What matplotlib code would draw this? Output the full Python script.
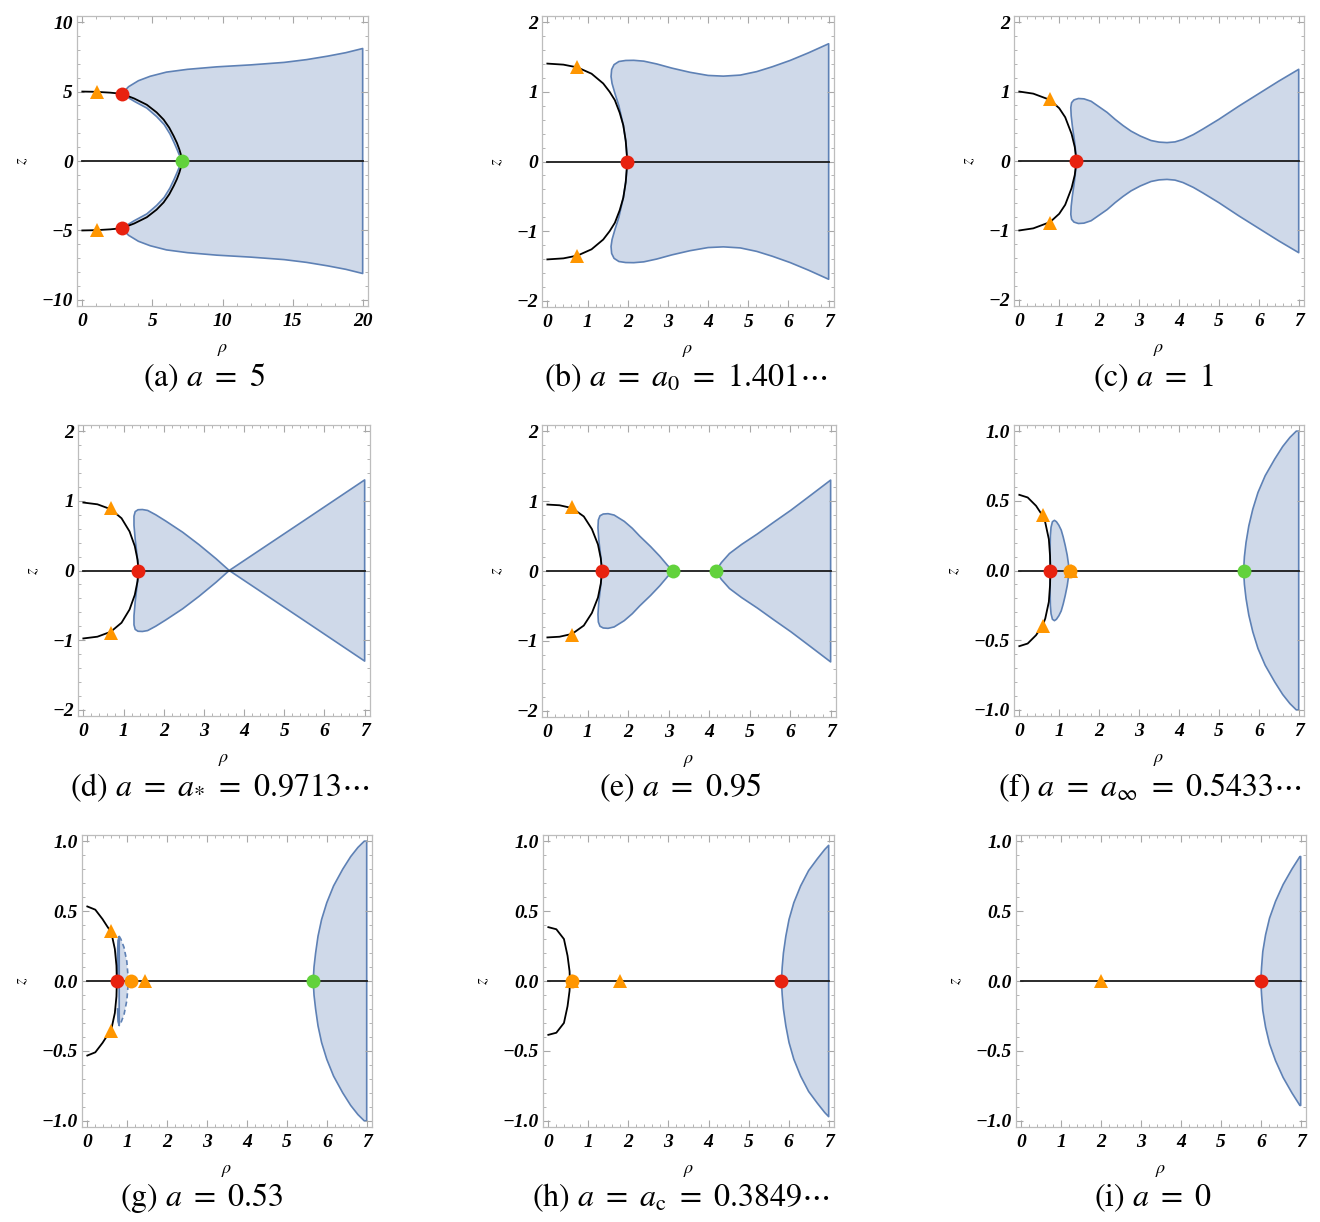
import matplotlib
matplotlib.use("Agg")
import matplotlib.pyplot as plt
from matplotlib.ticker import MultipleLocator, FuncFormatter
from matplotlib.patches import Polygon

plt.rcParams['mathtext.fontset'] = 'stix'
plt.rcParams['axes.unicode_minus'] = True

# ---------------- data (upper halves; lower halves are the mirror image) ----------------
# (a) a = 5
a_black = [(0, 5.0), (1.0, 4.98), (2.0, 4.92), (2.82, 4.84), (3.7, 4.5), (4.6, 4.05), (5.3, 3.5),
           (5.8, 2.98), (6.2, 2.4), (6.52, 1.79), (6.75, 1.3), (6.92, 0.84), (7.05, 0.4), (7.1, 0.0)]
a_inner = [(2.82, 4.84), (3.7, 4.3), (4.6, 3.81), (5.3, 3.2), (5.84, 2.62), (6.25, 1.95),
           (6.55, 1.31), (6.75, 0.85), (6.9, 0.48), (7.05, 0.2), (7.1, 0.0)]
a_outer = [(2.82, 4.84), (3.3, 5.35), (4.0, 5.78), (4.84, 6.1), (6.0, 6.4), (7.5, 6.6), (9.6, 6.78),
           (12.0, 6.92), (14.4, 7.1), (16.0, 7.3), (17.5, 7.55), (18.8, 7.8), (20.0, 8.1)]
a_red = [(2.82, 4.84), (2.82, -4.84)]
a_green = [(7.1, 0.0)]
a_tri = [(1.05, 5.0), (1.05, -5.0)]

# (b) a = a0 = 1.401...
b_black = [(0, 1.405), (0.4, 1.39), (0.75, 1.35), (1.1, 1.26), (1.39, 1.12), (1.55, 1.0), (1.68, 0.88),
           (1.8, 0.7), (1.89, 0.52), (1.95, 0.3), (1.99, 0.0)]
b_region = [(1.99, 0.0), (1.96, 0.25), (1.89, 0.52), (1.78, 0.8), (1.68, 0.98), (1.61, 1.12), (1.585, 1.22),
            (1.6, 1.32), (1.66, 1.39), (1.78, 1.435), (1.95, 1.45), (2.15, 1.452), (2.4, 1.44), (2.72, 1.40),
            (3.1, 1.34), (3.55, 1.28), (4.0, 1.235), (4.38, 1.225), (4.8, 1.24), (5.21, 1.29), (5.6, 1.36),
            (6.04, 1.45), (6.5, 1.56), (7.0, 1.69)]
b_red = [(1.99, 0.0)]
b_tri = [(0.75, 1.36), (0.75, -1.36)]

# (c) a = 1
c_black = [(0, 1.0), (0.35, 0.97), (0.77, 0.88), (1.0, 0.76), (1.15, 0.63), (1.31, 0.39), (1.39, 0.2), (1.43, 0.0)]
c_region = [(1.43, 0.0), (1.42, 0.1), (1.38, 0.3), (1.33, 0.5), (1.3, 0.65), (1.29, 0.77), (1.31, 0.84),
            (1.37, 0.88), (1.48, 0.9), (1.62, 0.895), (1.8, 0.86), (2.0, 0.78), (2.2, 0.7), (2.4, 0.6),
            (2.6, 0.51), (2.8, 0.43), (3.03, 0.36), (3.3, 0.295), (3.5, 0.272), (3.7, 0.265), (3.9, 0.275),
            (4.1, 0.31), (4.36, 0.38), (4.6, 0.46), (5.0, 0.6), (5.5, 0.79), (6.0, 0.97), (6.5, 1.15), (7.0, 1.32)]
c_red = [(1.43, 0.0)]
c_tri = [(0.77, 0.89), (0.77, -0.89)]

# (d) a = a* = 0.9713...
d_black = [(0, 0.975), (0.35, 0.95), (0.68, 0.88), (0.95, 0.75), (1.15, 0.56), (1.28, 0.35), (1.35, 0.15), (1.37, 0.0)]
d_lobe1 = [(1.37, 0.0), (1.34, 0.2), (1.29, 0.45), (1.26, 0.65), (1.26, 0.78), (1.29, 0.845), (1.36, 0.872),
           (1.47, 0.875), (1.6, 0.862), (1.8, 0.8), (2.05, 0.71), (2.47, 0.55), (2.88, 0.37), (3.3, 0.17), (3.63, 0.0)]
d_lobe2 = [(3.63, 0.0), (4.5, 0.335), (5.5, 0.72), (7.0, 1.30)]
d_red = [(1.37, 0.0)]
d_tri = [(0.68, 0.89), (0.68, -0.89)]

# (e) a = 0.95
e_black = [(0, 0.95), (0.3, 0.94), (0.61, 0.9), (0.9, 0.78), (1.1, 0.6), (1.25, 0.38), (1.32, 0.18), (1.35, 0.0)]
e_lobe1 = [(1.35, 0.0), (1.32, 0.2), (1.27, 0.45), (1.25, 0.62), (1.26, 0.73), (1.3, 0.79), (1.38, 0.815),
           (1.5, 0.82), (1.65, 0.8), (1.9, 0.71), (2.1, 0.61), (2.28, 0.5), (2.55, 0.35), (2.78, 0.21),
           (2.97, 0.08), (3.11, 0.0)]
e_lobe2 = [(4.16, 0.0), (4.3, 0.12), (4.5, 0.25), (4.8, 0.38), (5.19, 0.53), (5.6, 0.7), (6.02, 0.87),
           (6.5, 1.08), (7.0, 1.30)]
e_red = [(1.35, 0.0)]
e_green = [(3.11, 0.0), (4.16, 0.0)]
e_tri = [(0.61, 0.92), (0.61, -0.92)]

# (f) a = a_inf = 0.5433...
f_black = [(0, 0.543), (0.21, 0.524), (0.42, 0.464), (0.59, 0.39), (0.65, 0.345), (0.74, 0.225), (0.77, 0.105), (0.78, 0.0)]
f_lens = [(0.77, 0.0), (0.772, 0.15), (0.778, 0.25), (0.795, 0.31), (0.83, 0.35), (0.88, 0.36), (0.93, 0.35),
          (0.99, 0.325), (1.05, 0.29), (1.1, 0.24), (1.15, 0.18), (1.2, 0.11), (1.23, 0.05), (1.24, 0.0)]
f_right = [(5.62, 0.0), (5.64, 0.1), (5.68, 0.2), (5.75, 0.32), (5.85, 0.44), (5.98, 0.56), (6.16, 0.68),
           (6.4, 0.8), (6.6, 0.89), (6.78, 0.955), (6.94, 1.0), (7.0, 1.0)]
f_red = [(0.78, 0.0)]
f_green = [(5.62, 0.0)]
f_tri = [(0.59, 0.40), (0.59, -0.40), (1.3, 0.0)]
f_orange = [(1.27, 0.0)]

# (g) a = 0.53
g_black = [(0, 0.533), (0.2, 0.51), (0.38, 0.443), (0.5, 0.39), (0.6, 0.348), (0.69, 0.229), (0.73, 0.11), (0.74, 0.0)]
g_lens_solid = [(0.755, 0.0), (0.757, 0.2), (0.77, 0.29), (0.8, 0.319)]
g_lens_dashed = [(0.8, 0.319), (0.84, 0.30), (0.92, 0.24), (0.99, 0.14), (1.03, 0.0)]
g_right = [(5.66, 0.0), (5.68, 0.1), (5.72, 0.2), (5.78, 0.32), (5.87, 0.44), (6.0, 0.56), (6.17, 0.68),
           (6.4, 0.8), (6.6, 0.89), (6.78, 0.955), (6.94, 1.0), (7.0, 1.0)]
g_red = [(0.74, 0.0)]
g_green = [(5.66, 0.0)]
g_tri = [(0.605, 0.355), (0.605, -0.355), (1.44, 0.0)]
g_orange = [(1.09, 0.0)]

# (h) a = a_c = 0.3849...
h_black = [(0, 0.385), (0.2, 0.37), (0.39, 0.3), (0.48, 0.18), (0.53, 0.07), (0.54, 0.0)]
h_right = [(5.82, 0.0), (5.84, 0.1), (5.87, 0.2), (5.93, 0.32), (6.01, 0.44), (6.13, 0.56), (6.3, 0.68),
           (6.5, 0.79), (6.72, 0.875), (6.9, 0.94), (7.0, 0.97)]
h_red = [(5.82, 0.0)]
h_tri = [(0.58, 0.0), (1.8, 0.0)]
h_orange = [(0.58, 0.0)]

# (i) a = 0
i_right = [(6.0, 0.0), (6.02, 0.1), (6.05, 0.21), (6.12, 0.33), (6.22, 0.45), (6.37, 0.57), (6.56, 0.69),
           (6.78, 0.8), (6.98, 0.89), (7.0, 0.89)]
i_red = [(6.0, 0.0)]
i_tri = [(2.0, 0.0)]

captions = [r"(a) $a\ =\ 5$", r"(b) $a\ =\ a_0\ =\ 1.401\cdots$", r"(c) $a\ =\ 1$",
            r"(d) $a\ =\ a_{*}\ =\ 0.9713\cdots$", r"(e) $a\ =\ 0.95$",
            r"(f) $a\ =\ a_{\infty}\ =\ 0.5433\cdots$",
            r"(g) $a\ =\ 0.53$", r"(h) $a\ =\ a_{\mathrm{c}}\ =\ 0.3849\cdots$", r"(i) $a\ =\ 0$"]

# ---------------- styles ----------------
FILL = '#cfd9e9'
EDGE = '#5e81b5'
RED = '#e8220f'
GREEN = '#62d23c'
ORANGE = '#ff9600'
W, H = 1320, 1222

fig = plt.figure(figsize=(W / 100, H / 100), dpi=100)


def mirror_outline(upper):
    up = list(upper)
    lo = [(r, -z) for r, z in reversed(up)]
    if up[-1][1] == 0:
        lo = lo[1:]
    if up[0][1] == 0:
        lo = lo[:-1]
    return up + lo


def fmt_factory(spec):
    return FuncFormatter(lambda v, p: (spec % v).replace('-', '\u2212'))


def make_ax(rect_px, rmax, zmax, xmaj, xmin, ymaj, ymin, yfmt):
    x0, y0, x1, y1 = rect_px
    ax = fig.add_axes([x0 / W, 1 - y1 / H, (x1 - x0) / W, (y1 - y0) / H])
    px = 0.019 * rmax
    py = 0.022 * 2 * zmax
    ax.set_xlim(-px, rmax + px)
    ax.set_ylim(-zmax - py, zmax + py)
    ax.xaxis.set_major_locator(MultipleLocator(xmaj))
    ax.xaxis.set_minor_locator(MultipleLocator(xmin))
    ax.yaxis.set_major_locator(MultipleLocator(ymaj))
    ax.yaxis.set_minor_locator(MultipleLocator(ymin))
    ax.xaxis.set_major_formatter(fmt_factory('%d'))
    ax.yaxis.set_major_formatter(fmt_factory(yfmt))
    ax.tick_params(which='both', direction='in', top=True, right=True, color='#a8a8a8')
    ax.tick_params(which='major', length=5, width=0.8)
    ax.tick_params(which='minor', length=2.5, width=0.6)
    ax.tick_params(axis='x', pad=5)
    ax.tick_params(axis='y', pad=3)
    for s in ax.spines.values():
        s.set_color('#bdbdbd')
        s.set_linewidth(0.9)
    for lbl in ax.get_xticklabels() + ax.get_yticklabels():
        lbl.set_fontfamily('Liberation Serif')
        lbl.set_fontweight('bold')
        lbl.set_fontstyle('italic')
        lbl.set_fontsize(14)
    ax.set_xlabel(r'$\rho$', fontsize=13, labelpad=7)
    ax.set_ylabel(r'$z$', fontsize=12, labelpad=8)
    return ax


def region(ax, upper, edge=True):
    pts = mirror_outline(upper)
    ax.add_patch(Polygon(pts, closed=True, facecolor=FILL, edgecolor=EDGE if edge else 'none',
                         linewidth=1.2, joinstyle='round', zorder=1))


def black_curve(ax, upper):
    pts = mirror_outline(upper)
    ax.plot([p[0] for p in pts], [p[1] for p in pts], color='black', lw=1.3, zorder=3,
            solid_joinstyle='round')


def axis_line(ax, rmax):
    ax.plot([0, rmax], [0, 0], color='#1a1a1a', lw=1.3, zorder=3)


def pts(ax, data, color, marker, ms):
    ax.plot([p[0] for p in data], [p[1] for p in data], ls='none', marker=marker, color=color,
            markersize=ms, markeredgewidth=0, zorder=5)


def dots(ax, red=(), green=(), tri=(), orange=()):
    pts(ax, orange, ORANGE, 'o', 10)
    pts(ax, tri, ORANGE, '^', 10.5)
    pts(ax, red, RED, 'o', 10)
    pts(ax, green, GREEN, 'o', 10)


rects = [(77, 16, 368, 306), (542, 16, 834, 307), (1014, 16, 1304, 306),
         (78, 425, 370, 716), (542, 425, 836, 717), (1014, 425, 1304, 716),
         (82, 835, 372, 1127), (543, 835, 834, 1127), (1016, 835, 1306, 1127)]
cap_x = [204, 686, 1153, 220, 680, 1150, 202, 681, 1153]
cap_y = [386, 386, 386, 796, 796, 796, 1206, 1206, 1206]

# (a)
ax = make_ax(rects[0], 20, 10, 5, 1, 5, 1, '%d')
region(ax, list(reversed(a_inner)) + a_outer[1:])
black_curve(ax, a_black)
axis_line(ax, 20)
dots(ax, red=a_red, green=a_green, tri=a_tri)
# (b)
ax = make_ax(rects[1], 7, 2, 1, 0.2, 1, 0.2, '%d')
region(ax, b_region)
black_curve(ax, b_black)
axis_line(ax, 7)
dots(ax, red=b_red, tri=b_tri)
# (c)
ax = make_ax(rects[2], 7, 2, 1, 0.2, 1, 0.2, '%d')
region(ax, c_region)
black_curve(ax, c_black)
axis_line(ax, 7)
dots(ax, red=c_red, tri=c_tri)
# (d)
ax = make_ax(rects[3], 7, 2, 1, 0.2, 1, 0.2, '%d')
region(ax, d_lobe1)
region(ax, d_lobe2)
black_curve(ax, d_black)
axis_line(ax, 7)
dots(ax, red=d_red, tri=d_tri)
# (e)
ax = make_ax(rects[4], 7, 2, 1, 0.2, 1, 0.2, '%d')
region(ax, e_lobe1)
region(ax, e_lobe2)
black_curve(ax, e_black)
axis_line(ax, 7)
dots(ax, red=e_red, green=e_green, tri=e_tri)
# (f)
ax = make_ax(rects[5], 7, 1, 1, 0.2, 0.5, 0.1, '%.1f')
region(ax, f_lens)
region(ax, f_right)
black_curve(ax, f_black)
axis_line(ax, 7)
dots(ax, red=f_red, green=f_green, tri=f_tri, orange=f_orange)
# (g)
ax = make_ax(rects[6], 7, 1, 1, 0.2, 0.5, 0.1, '%.1f')
region(ax, g_lens_solid + g_lens_dashed[1:], edge=False)
sl = mirror_outline(g_lens_solid)
ax.plot([p[0] for p in sl], [p[1] for p in sl], color=EDGE, lw=1.2, zorder=2)
dl = mirror_outline(g_lens_dashed)
ax.plot([p[0] for p in dl], [p[1] for p in dl], color=EDGE, lw=1.2, ls=(0, (3, 2)), zorder=2)
region(ax, g_right)
black_curve(ax, g_black)
axis_line(ax, 7)
dots(ax, red=g_red, green=g_green, tri=g_tri, orange=g_orange)
# (h)
ax = make_ax(rects[7], 7, 1, 1, 0.2, 0.5, 0.1, '%.1f')
region(ax, h_right)
black_curve(ax, h_black)
axis_line(ax, 7)
dots(ax, red=h_red, tri=h_tri, orange=h_orange)
# (i)
ax = make_ax(rects[8], 7, 1, 1, 0.2, 0.5, 0.1, '%.1f')
region(ax, i_right)
axis_line(ax, 7)
dots(ax, red=i_red, tri=i_tri)

for cx, cy, txt in zip(cap_x, cap_y, captions):
    fig.text(cx / W, 1 - cy / H, txt, ha='center', va='baseline', fontsize=23,
             family='STIXGeneral', weight='normal', style='normal')

fig.savefig('out.png', dpi=100)
